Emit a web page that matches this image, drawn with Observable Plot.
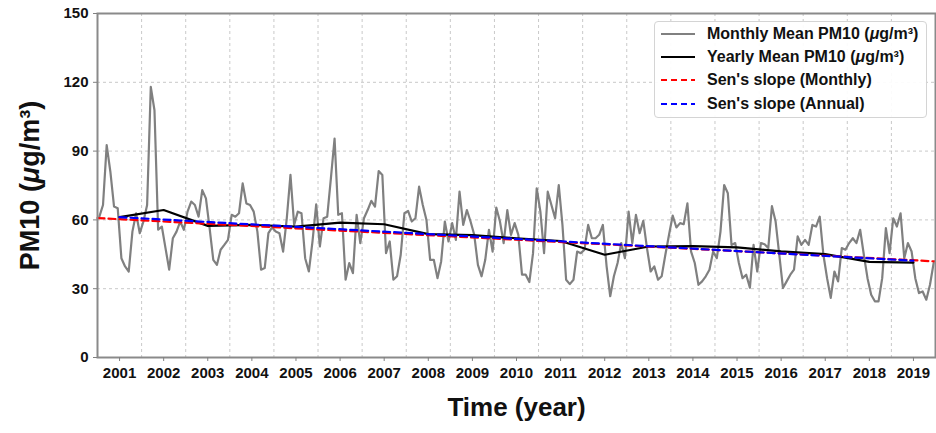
<!DOCTYPE html>
<html>
<head>
<meta charset="utf-8">
<script src="https://cdn.jsdelivr.net/npm/d3@7"></script>
<script src="https://cdn.jsdelivr.net/npm/@observablehq/plot@0.6"></script>
<style>
  body { margin: 0; background: #fff; font-family: "Liberation Sans", Arial, sans-serif; }
  #chart { position: relative; width: 936px; height: 433px; }
  .legend {
    position: absolute; left: 654px; top: 21px; width: 273px; height: 97px;
    box-sizing: border-box; border: 1px solid #d4d4d4; border-radius: 4px;
    background: rgba(255,255,255,0.92); padding-top: 0px;
  }
  .legend .row { display: flex; align-items: center; height: 23.3px; }
  .legend svg { margin-left: 6px; margin-right: 12px; }
  .legend span { font-size: 16px; font-weight: bold; color: #111; white-space: nowrap; }
  .legend i { font-style: italic; }
</style>
</head>
<body>
<div id="chart"></div>
<script>
// Monthly mean PM10 (µg/m³), one row per year, Jan..Dec
const years = [2001, 2002, 2003, 2004, 2005, 2006, 2007, 2008, 2009, 2010,
               2011, 2012, 2013, 2014, 2015, 2016, 2017, 2018, 2019];
const monthlyPM10 = [
  [61.4, 66.5, 92.6, 81.0, 65.8, 65.1, 43.3, 39.7, 37.5, 54.9, 62.9, 54.2],
  [59.3, 66.5, 118.0, 107.8, 55.7, 57.1, 47.7, 38.3, 52.0, 54.9, 59.3, 55.7],
  [63.6, 68.0, 66.5, 61.4, 73.0, 69.4, 56.4, 42.6, 40.4, 47.0, 49.1, 51.3],
  [62.2, 61.4, 62.9, 75.9, 67.2, 66.5, 63.6, 54.9, 38.3, 39.0, 54.2, 56.7],
  [54.9, 54.2, 46.2, 60.7, 79.6, 57.8, 63.6, 62.9, 43.3, 37.5, 50.6, 66.8],
  [48.4, 60.7, 61.4, 78.1, 95.5, 62.2, 62.9, 33.9, 41.2, 36.8, 62.2, 49.9],
  [60.7, 64.3, 68.3, 65.8, 81.3, 79.6, 45.5, 50.6, 33.9, 35.4, 44.8, 62.9],
  [63.9, 59.3, 60.7, 74.5, 66.5, 60.0, 42.6, 42.6, 34.6, 41.9, 59.3, 50.6],
  [58.6, 51.3, 72.3, 57.8, 64.3, 59.3, 53.5, 40.4, 35.4, 42.6, 55.7, 46.2],
  [65.4, 59.3, 49.9, 64.3, 53.5, 58.6, 53.5, 36.1, 36.1, 32.9, 45.5, 73.8],
  [63.6, 45.5, 72.3, 66.5, 60.7, 75.2, 57.8, 33.9, 32.0, 33.9, 46.2, 45.5],
  [47.0, 57.8, 52.0, 52.0, 53.5, 57.8, 40.0, 26.7, 35.4, 41.2, 49.9, 43.3],
  [63.6, 49.9, 62.2, 54.2, 59.6, 47.7, 37.5, 39.7, 33.9, 35.4, 44.8, 53.5],
  [61.9, 56.7, 58.6, 58.1, 67.2, 46.2, 41.2, 31.7, 33.2, 35.4, 38.3, 46.2],
  [43.3, 54.9, 75.2, 71.6, 49.1, 49.9, 41.2, 34.6, 36.1, 30.4, 49.1, 37.5],
  [49.9, 49.4, 47.7, 66.0, 59.3, 44.8, 30.3, 33.2, 36.1, 38.3, 52.8, 49.1],
  [51.3, 49.1, 57.8, 57.1, 61.4, 44.8, 34.6, 26.0, 37.5, 33.2, 47.7, 47.0],
  [49.9, 52.0, 49.9, 55.7, 44.8, 34.6, 27.4, 24.5, 24.5, 34.6, 56.4, 45.5],
  [60.7, 57.1, 62.9, 43.3, 49.9, 46.2, 34.6, 28.1, 28.8, 25.2, 31.7, 41.2]
];
// Yearly mean PM10 (µg/m³)
const yearlyPM10 = [61.2, 64.3, 57.4, 57.8, 57.1, 58.8, 58.1, 53.8, 53.4, 52.0,
                    50.8, 44.8, 48.4, 48.6, 48.0, 46.3, 45.1, 41.7, 41.4];
// Sen's slope trend lines: start and end values
const senMonthlyEnds = [60.8, 41.9];   // Jan 2001 -> Jan 2020
const senAnnualEnds = [61.2, 42.2];    // mid-2001 -> mid-2019
const yTicks = [0, 30, 60, 90, 120, 150];
const yGrid = [30, 60, 90, 120];

// Time axis is in decimal years; a label sits in the middle of its year
const monthly = monthlyPM10.flatMap((row, r) =>
  row.map((v, m) => ({t: years[r] + (m + 0.5) / 12, v})));
const yearly = years.map((y, i) => ({t: y + 0.5, v: yearlyPM10[i]}));
const first = years[0], last = years[years.length - 1];
const senMonthly = [{t: first, v: senMonthlyEnds[0]}, {t: last + 1, v: senMonthlyEnds[1]}];
const senAnnual = [{t: first + 0.5, v: senAnnualEnds[0]}, {t: last + 0.5, v: senAnnualEnds[1]}];
const gridYears = years.slice(1);
const tickYears = years.map(y => y + 0.5);

const font = "Liberation Sans, Arial, Helvetica, sans-serif";
const plot = Plot.plot({
  width: 936,
  height: 433,
  marginLeft: 97,
  marginRight: 1,
  marginTop: 13,
  marginBottom: 76,
  style: {fontFamily: font, fontSize: "15px", fontWeight: "bold", color: "#111", background: "white"},
  x: {domain: [first, last + 1]},
  y: {domain: [0, 150]},
  marks: [
    Plot.ruleX(gridYears, {stroke: "#c9c9c9", strokeWidth: 1, strokeDasharray: "3,3"}),
    Plot.ruleY(yGrid, {stroke: "#c9c9c9", strokeWidth: 1, strokeDasharray: "3,3"}),
    Plot.line(monthly, {x: "t", y: "v", stroke: "#808080", strokeWidth: 2.2}),
    Plot.line(yearly, {x: "t", y: "v", stroke: "black", strokeWidth: 2.2}),
    Plot.line(senMonthly, {x: "t", y: "v", stroke: "red", strokeWidth: 2.2, strokeDasharray: "7,4"}),
    Plot.line(senAnnual, {x: "t", y: "v", stroke: "blue", strokeWidth: 2.2, strokeDasharray: "7,4"}),
    Plot.frame({stroke: "#8a8a8a", strokeWidth: 2}),
    Plot.axisX(tickYears, {tickFormat: d => String(Math.floor(d)), tickSize: 4, tickPadding: 6,
                           stroke: "#808080", label: null}),
    Plot.axisY(yTicks, {tickSize: 4, tickPadding: 5, stroke: "#808080", label: null}),
    Plot.text(["Time (year)"], {frameAnchor: "bottom", dy: 58, fontSize: 26, fontWeight: "bold", fill: "#111"}),
    Plot.text(["PM10 (μg/m³)"], {frameAnchor: "left", textAnchor: "middle", rotate: -90, dx: -67,
                                 fontSize: 27, fontWeight: "bold", fill: "#111"})
  ]
});

// Set the Greek mu in italic, as in math notation
function italicizeMu(node) {
  const sel = d3.select(node);
  const s = sel.text();
  const k = s.indexOf("μ");
  if (k < 0) return;
  sel.text(null);
  sel.append("tspan").text(s.slice(0, k));
  sel.append("tspan").attr("font-style", "italic").text("μ");
  sel.append("tspan").text(s.slice(k + 1));
}
d3.select(plot).selectAll("text").each(function () {
  const spans = d3.select(this).selectAll("tspan");
  if (spans.size() === 0) italicizeMu(this);
  else spans.each(function () { italicizeMu(this); });
});

const chart = document.getElementById("chart");
chart.appendChild(plot);

// Legend box in the upper right corner of the plot area
const legendItems = [
  {label: "Monthly Mean PM10 (<i>μ</i>g/m³)", color: "#808080", dash: null},
  {label: "Yearly Mean PM10 (<i>μ</i>g/m³)", color: "black", dash: null},
  {label: "Sen's slope (Monthly)", color: "red", dash: "6,4"},
  {label: "Sen's slope (Annual)", color: "blue", dash: "6,4"}
];
const legend = document.createElement("div");
legend.className = "legend";
legend.innerHTML = legendItems.map(d => `
  <div class="row">
    <svg width="34" height="6"><line x1="0" x2="34" y1="3" y2="3" stroke="${d.color}" stroke-width="2.2"
      ${d.dash ? `stroke-dasharray="${d.dash}"` : ""}/></svg>
    <span>${d.label}</span>
  </div>`).join("");
chart.appendChild(legend);
</script>
</body>
</html>
